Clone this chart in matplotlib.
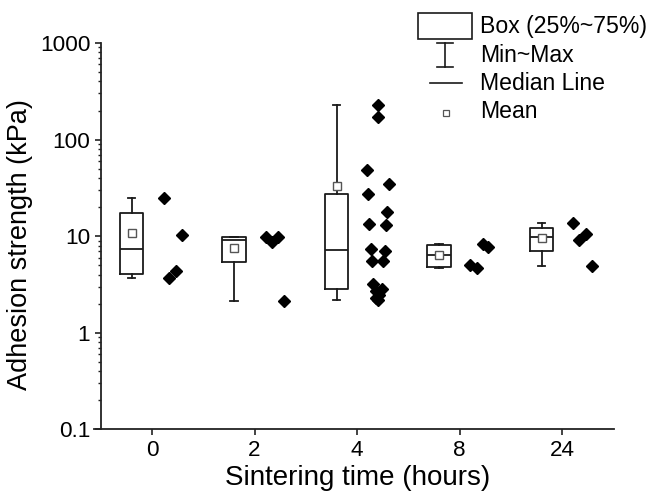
import numpy as np
import matplotlib
matplotlib.use("Agg")
import matplotlib.pyplot as plt
from matplotlib.patches import Rectangle
from matplotlib.lines import Line2D
from matplotlib.ticker import FixedLocator, FixedFormatter, LogLocator, NullFormatter

plt.rcParams['font.family'] = ['Liberation Sans', 'DejaVu Sans']

# ---------------- data ----------------
categories = ['0', '2', '4', '8', '24']
vals_0 = [24.9, 10.2, 4.35, 3.68]
vals_2 = [9.9, 9.7, 8.7, 2.15]
vals_4 = [227, 171, 47.9, 35, 27.4, 17.6, 13.3, 12.9, 7.41, 6.97, 5.54, 5.54,
          3.17, 2.81, 2.71, 2.46, 2.3, 2.17]
vals_8 = [8.34, 7.7, 5.0, 4.66]
vals_24 = [13.7, 10.6, 9.04, 4.89]
# horizontal scatter of the raw points (offset right of category tick)
jit_0 = [0.117, 0.293, 0.234, 0.166]
jit_2 = [0.115, 0.232, 0.174, 0.288]
jit_4 = [0.202, 0.202, 0.095, 0.31, 0.107, 0.296, 0.12, 0.283, 0.137, 0.27,
         0.15, 0.256, 0.16, 0.241, 0.185, 0.217, 0.185, 0.202]
jit_8 = [0.232, 0.28, 0.102, 0.168]
jit_24 = [0.11, 0.234, 0.169, 0.29]
yticks = [0.1, 1, 10, 100, 1000]
ytick_labels = ['0.1', '1', '10', '100', '1000']

groups = [vals_0, vals_2, vals_4, vals_8, vals_24]
jitters = [jit_0, jit_2, jit_4, jit_8, jit_24]


def tukey_stats(v):
    s = np.sort(np.asarray(v, float))
    n = len(s)
    h = (n + 1) // 2
    lower = s[:h]
    upper = s[n - h:]
    return dict(med=float(np.median(s)), q1=float(np.median(lower)),
                q3=float(np.median(upper)), whislo=float(s.min()),
                whishi=float(s.max()), mean=float(np.mean(s)), fliers=[])


W, H = 651, 494
fig = plt.figure(figsize=(W / 100, H / 100), dpi=100)
ax_left, ax_right, ax_top, ax_bot = 94, 614, 43, 429.3
ax = fig.add_axes([ax_left / W, 1 - ax_bot / H, (ax_right - ax_left) / W,
                   (ax_bot - ax_top) / H])

pos = np.arange(len(categories))
stats = [tukey_stats(g) for g in groups]
lc = '#1a1a1a'
ax.bxp(stats, positions=pos - 0.2, widths=0.23, showmeans=True,
       showfliers=False, patch_artist=False,
       boxprops=dict(color=lc, linewidth=1.3),
       whiskerprops=dict(color=lc, linewidth=1.3),
       capprops=dict(color=lc, linewidth=1.3),
       medianprops=dict(color=lc, linewidth=1.3),
       meanprops=dict(marker='s', markerfacecolor='white',
                      markeredgecolor='#555555', markersize=5.5,
                      markeredgewidth=1.0),
       capwidths=0.075)

for p, g, j in zip(pos, groups, jitters):
    ax.plot(p + np.asarray(j), g, linestyle='none', marker='D',
            color='black', markersize=6.6, zorder=3)

ax.set_yscale('log')
ax.set_ylim(0.1, 1000)
ax.set_xlim(-0.566, 4.507)
ax.spines['left'].set_position(('data', -0.50))
ax.spines['top'].set_visible(False)
ax.spines['right'].set_visible(False)
for sp in ('left', 'bottom'):
    ax.spines[sp].set_linewidth(1.3)
    ax.spines[sp].set_color('#222222')

ax.yaxis.set_major_locator(FixedLocator(yticks))
ax.yaxis.set_major_formatter(FixedFormatter(ytick_labels))
ax.yaxis.set_minor_locator(LogLocator(base=10, subs=np.arange(2, 10)))
ax.yaxis.set_minor_formatter(NullFormatter())
ax.set_xticks(pos)
ax.set_xticklabels(categories)
ax.tick_params(axis='both', which='major', direction='out', length=4.5,
               width=1.2, labelsize=16.2, color='#222222', pad=3)
ax.tick_params(axis='y', which='minor', direction='out', length=2.5,
               width=1.0, color='#222222')

ax.set_xlabel('Sintering time (hours)', fontsize=20)
ax.set_ylabel('Adhesion strength (kPa)', fontsize=19.5)
ax.xaxis.set_label_coords((358 - ax_left) / (ax_right - ax_left),
                          (ax_bot - 465) / (ax_bot - ax_top))
ax.yaxis.set_label_coords((33 - ax_left) / (ax_right - ax_left),
                          (ax_bot - 245) / (ax_bot - ax_top))


# ---------------- legend (drawn in pixel layout) ----------------
def fx(x):
    return x / W


def fy(y):
    return 1 - y / H


fig.add_artist(Rectangle((fx(418), fy(39)), fx(472) - fx(418), fy(12.7) - fy(39),
                         transform=fig.transFigure, facecolor='white',
                         edgecolor=lc, linewidth=1.2))
fig.add_artist(Line2D([fx(445), fx(445)], [fy(43), fy(67)], color=lc, lw=1.2,
                      transform=fig.transFigure))
for yy in (43, 67):
    fig.add_artist(Line2D([fx(437), fx(453)], [fy(yy), fy(yy)], color=lc, lw=1.2,
                          transform=fig.transFigure))
fig.add_artist(Line2D([fx(430), fx(462)], [fy(83), fy(83)], color=lc, lw=1.2,
                      transform=fig.transFigure))
fig.add_artist(Line2D([fx(446)], [fy(113)], marker='s', markersize=4,
                      markerfacecolor='white', markeredgecolor='#555555',
                      markeredgewidth=0.9, linestyle='none',
                      transform=fig.transFigure))
leg_labels = ['Box (25%~75%)', 'Min~Max', 'Median Line', 'Mean']
for lab, yy in zip(leg_labels, (26, 55, 83, 112)):
    fig.text(fx(480), fy(yy), lab, fontsize=16.6, va='center', ha='left')

fig.savefig('out.png', dpi=100)
